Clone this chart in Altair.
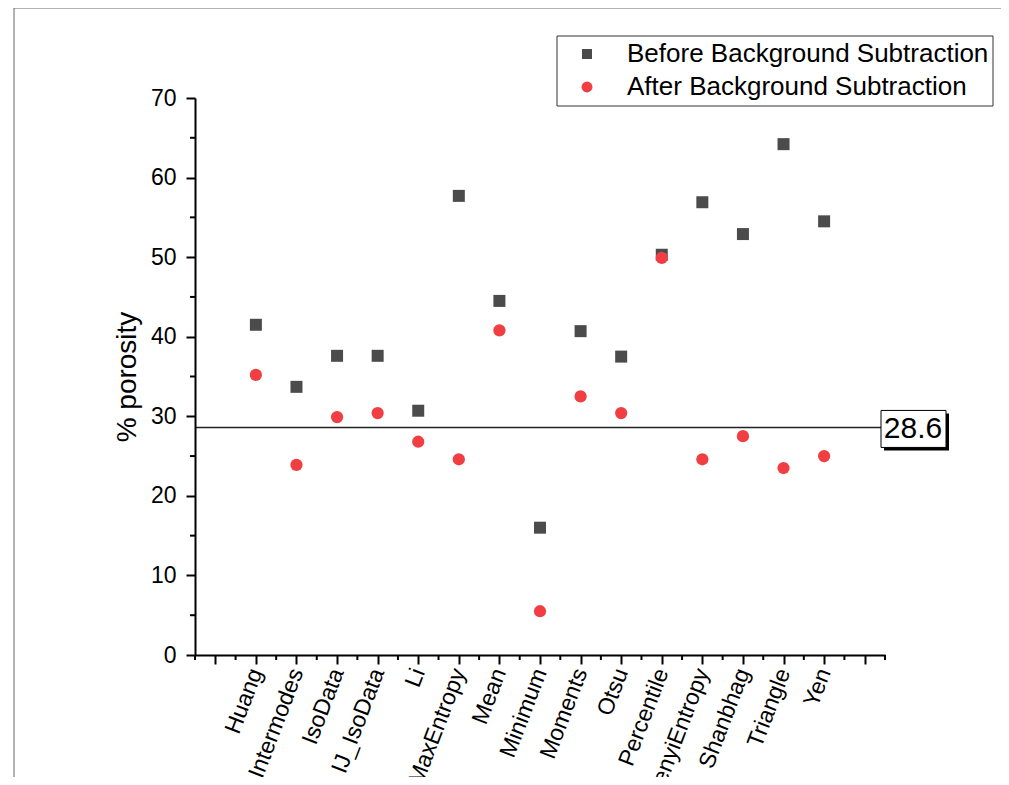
import altair as alt
import pandas as pd
import json

methods = ["Huang", "Intermodes", "IsoData", "IJ_IsoData", "Li", "MaxEntropy", "Mean",
           "Minimum", "Moments", "Otsu", "Percentile", "RenyiEntropy", "Shanbhag",
           "Triangle", "Yen"]
before = [41.5, 33.7, 37.6, 37.6, 30.7, 57.7, 44.5, 16.0, 40.7, 37.5, 50.3, 56.9, 52.9, 64.2, 54.5]
after = [35.2, 23.9, 29.9, 30.4, 26.8, 24.6, 40.8, 5.5, 32.5, 30.4, 49.9, 24.6, 27.5, 23.5, 25.0]
series_names = ["Before Background Subtraction", "After Background Subtraction"]
ref_value = 28.6
y_major = [0, 10, 20, 30, 40, 50, 60, 70]
y_minor = [5, 15, 25, 35, 45, 55, 65]
x_major = list(range(0, 17))
x_minor = [i + 0.5 for i in range(-1, 17)]

FONT = "Liberation Sans"
SQ = "#4b4b4b"
RED = "#f03e42"
W, H = 690, 557

df = pd.DataFrame({"idx": list(range(1, 16)), "method": methods, "before": before, "after": after})
one = pd.DataFrame({"a": [0]})

names_js = json.dumps(methods)
xscale = alt.Scale(domain=[-0.5, 16.5], nice=False, zero=False)
yscale = alt.Scale(domain=[0, 70], nice=False)

xaxis = alt.Axis(values=x_major, title=None, grid=False, tickSize=9, tickWidth=2, tickColor="black",
                 domainWidth=2, domainColor="black", labelAngle=291, labelAlign="right",
                 labelBaseline="middle", labelFontSize=23, labelColor="black", labelPadding=5,
                 labelFont=FONT, labelOverlap=False, zindex=1,
                 labelExpr=f"(datum.value>=1 && datum.value<=15) ? {names_js}[datum.value-1] : ''")
yaxis = alt.Axis(values=y_major, title="% porosity", grid=False, tickSize=9, tickWidth=2,
                 tickColor="black", domainWidth=2, domainColor="black", labelFontSize=23,
                 labelColor="black", labelPadding=10, labelFont=FONT, titleFont=FONT,
                 titleFontSize=28, titleFontWeight="normal", titleColor="black", titlePadding=9,
                 zindex=1)

# outer frame
frame = alt.Chart(one).mark_rect(fill="white", fillOpacity=0, stroke="#666666", strokeWidth=1).encode(
    x=alt.value(-181), x2=alt.value(W + 150), y=alt.value(-90), y2=alt.value(H + 160))

base = alt.Chart(df)
sq = base.mark_point(shape="square", filled=True, color=SQ, size=144, opacity=1).encode(
    x=alt.X("idx:Q", scale=xscale, axis=xaxis),
    y=alt.Y("before:Q", scale=yscale, axis=yaxis))
ci = base.mark_circle(color=RED, size=150, opacity=1).encode(
    x=alt.X("idx:Q", scale=xscale),
    y=alt.Y("after:Q", scale=yscale))

xminor = alt.Chart(pd.DataFrame({"v": x_minor})).mark_rule(color="black", strokeWidth=2).encode(
    x=alt.X("v:Q", scale=xscale), y=alt.value(H), y2=alt.value(H + 5))
yminor = alt.Chart(pd.DataFrame({"v": y_minor})).mark_rule(color="black", strokeWidth=2).encode(
    y=alt.Y("v:Q", scale=yscale), x=alt.value(-5), x2=alt.value(0))

refdf = pd.DataFrame({"r": [ref_value], "lab": [str(ref_value)]})
refline = alt.Chart(refdf).mark_rule(color="#222222", strokeWidth=1.5).encode(
    y=alt.Y("r:Q", scale=yscale), x=alt.value(0), x2=alt.value(686))
shadow = alt.Chart(refdf).mark_rect(fill="black", yOffset=-14, y2Offset=23).encode(
    y=alt.Y("r:Q", scale=yscale), y2="r:Q", x=alt.value(689), x2=alt.value(754))
box = alt.Chart(refdf).mark_rect(fill="white", stroke="black", strokeWidth=1, yOffset=-17, y2Offset=20).encode(
    y=alt.Y("r:Q", scale=yscale), y2="r:Q", x=alt.value(686), x2=alt.value(751))
boxtext = alt.Chart(refdf).mark_text(font=FONT, fontSize=30, color="black", align="center",
                                     baseline="middle", dy=2).encode(
    y=alt.Y("r:Q", scale=yscale), x=alt.value(718), text="lab:N")

# legend
leg_box = alt.Chart(one).mark_rect(fill="white", stroke="#333333", strokeWidth=1).encode(
    x=alt.value(362), x2=alt.value(798), y=alt.value(-62), y2=alt.value(8))
leg_sq = alt.Chart(one).mark_point(shape="square", filled=True, color=SQ, size=100, opacity=1).encode(
    x=alt.value(392), y=alt.value(-44))
leg_ci = alt.Chart(one).mark_circle(color=RED, size=120, opacity=1).encode(
    x=alt.value(392), y=alt.value(-11))
leg_t1 = alt.Chart(one).mark_text(font=FONT, fontSize=26, color="black", align="left",
                                  baseline="middle", text=series_names[0]).encode(
    x=alt.value(432), y=alt.value(-44))
leg_t2 = alt.Chart(one).mark_text(font=FONT, fontSize=26, color="black", align="left",
                                  baseline="middle", text=series_names[1]).encode(
    x=alt.value(432), y=alt.value(-11))

chart = alt.layer(frame, refline, xminor, yminor, sq, ci, shadow, box, boxtext,
                  leg_box, leg_sq, leg_ci, leg_t1, leg_t2).properties(
    width=W, height=H, autosize="none",
    padding={"left": 187, "top": 90, "right": 116, "bottom": 122},
    background="white"
).configure_view(stroke=None)

chart.save("out.html", embed_options={"renderer": "svg", "actions": False})
